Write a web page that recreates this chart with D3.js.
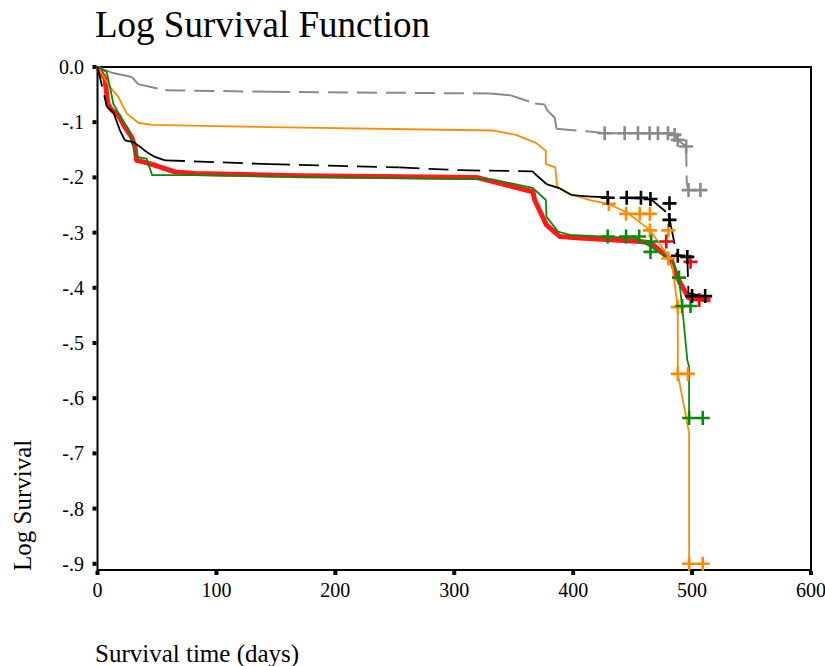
<!DOCTYPE html>
<html><head><meta charset="utf-8">
<script src="https://cdn.jsdelivr.net/npm/d3@7"></script>
<style>body{margin:0;background:#fff}svg{display:block}text{font-family:"Liberation Serif","Times New Roman",serif;fill:#000}</style>
</head><body><svg id="c" width="825" height="666"></svg>
<script>
const xTicks = [0,100,200,300,400,500,600];
const yTicks = [0,-0.1,-0.2,-0.3,-0.4,-0.5,-0.6,-0.7,-0.8,-0.9];
const yTickLabels = ["0.0","-.1","-.2","-.3","-.4","-.5","-.6","-.7","-.8","-.9"];

const grayLine = [[0,0],[13,-0.011],[29,-0.018],[34,-0.031],[57,-0.042],[145,-0.045],[330,-0.048],[347,-0.051],[368,-0.066],[376,-0.068],[378,-0.078],[384.5,-0.092],[386,-0.112],[414,-0.117],[426.5,-0.120],[479.7,-0.120],[485.3,-0.123],[488,-0.132],[495,-0.144],[495.5,-0.21],[497,-0.223],[506,-0.223]];
const grayCens = [[426.5,-0.120],[443.3,-0.120],[454.5,-0.120],[464.3,-0.120],[471.3,-0.120],[479.7,-0.120],[485.3,-0.123],[488,-0.132],[495,-0.144],[497,-0.223],[507,-0.223]];

const blackLine = [[0,0],[8,-0.0725],[13.3,-0.0815],[18.9,-0.115],[23.1,-0.133],[30.1,-0.136],[34.3,-0.142],[41.3,-0.154],[48.3,-0.163],[56.7,-0.169],[145,-0.176],[254,-0.182],[305,-0.187],[366,-0.189],[367.6,-0.193],[377.5,-0.212],[388.7,-0.220],[398.5,-0.232],[415,-0.235],[465,-0.239],[480,-0.266],[482,-0.285],[487,-0.340],[496,-0.344],[497,-0.410],[511,-0.415]];
const blackCens = [[429,-0.237],[445,-0.237],[457,-0.237],[465,-0.239],[481,-0.247],[481,-0.277],[488,-0.342],[496,-0.344],[500,-0.415],[511,-0.415]];

const orangeLine = [[0,0],[10.5,-0.036],[17.5,-0.054],[24.5,-0.084],[34.3,-0.101],[45.5,-0.105],[145,-0.109],[332,-0.115],[352,-0.123],[369,-0.138],[377,-0.152],[377,-0.176],[385,-0.182],[386.5,-0.2165],[397.5,-0.230],[414,-0.241],[429.7,-0.248],[445.5,-0.264],[464.3,-0.295],[482.8,-0.351],[488,-0.437],[488,-0.556],[497.5,-0.663],[497.5,-0.9]];
const orangeCens = [[430,-0.248],[444.5,-0.266],[456,-0.266],[464.5,-0.266],[464.5,-0.296],[480,-0.296],[480,-0.347],[488,-0.435],[488,-0.556],[496.5,-0.556],[497.5,-0.9],[509,-0.9]];

const redLine = [[0,0],[6.3,-0.021],[7.7,-0.048],[8.6,-0.0665],[11.9,-0.078],[17.5,-0.0875],[23.1,-0.109],[28.7,-0.127],[31.5,-0.145],[32.9,-0.169],[38.5,-0.172],[48.3,-0.178],[56.7,-0.184],[65.1,-0.190],[82,-0.193],[170,-0.197],[318.6,-0.200],[366.2,-0.226],[367.6,-0.241],[377.5,-0.286],[388.7,-0.307],[405.5,-0.310],[456.7,-0.316],[465.6,-0.319],[482.8,-0.351],[487,-0.379],[491.6,-0.397],[497,-0.418],[515.5,-0.422]];
const redCens = [[478.3,-0.316],[498.7,-0.353],[506,-0.422]];

const greenLine = [[0,0],[2.1,-0.002],[7.7,-0.009],[10.5,-0.036],[13.3,-0.0665],[20.3,-0.094],[25.9,-0.112],[32.9,-0.163],[41.3,-0.166],[46,-0.196],[82,-0.196],[170,-0.199],[332,-0.2035],[366,-0.219],[377,-0.241],[377.5,-0.271],[387.2,-0.298],[397,-0.304],[453,-0.310],[465.6,-0.326],[482.8,-0.351],[488.7,-0.379],[491.6,-0.433],[496,-0.531],[497.5,-0.543],[497.5,-0.636]];
const greenCens = [[429,-0.307],[444.5,-0.307],[455.5,-0.307],[465.6,-0.316],[465,-0.335],[489,-0.3815],[491.6,-0.433],[498.7,-0.433],[497.5,-0.636],[509,-0.636]];

const svg = d3.select("#c");
const L=97.5, R=811, T=67, B=570;
const x = d3.scaleLinear().domain([0,600]).range([L,R]);
const y = d3.scaleLinear().domain([0,-0.9]).range([T,563.8]);

// title
svg.append("text").attr("x",95).attr("y",37).attr("font-size",37).text("Log Survival Function");

// frame
svg.append("rect").attr("x",L).attr("y",T).attr("width",R-L).attr("height",B-T)
  .attr("fill","none").attr("stroke","#000").attr("stroke-width",2);

// y ticks
const gy = svg.append("g");
yTicks.forEach((v,i)=>{
  gy.append("rect").attr("x",L-5).attr("y",y(v)-2).attr("width",4).attr("height",4).attr("fill","#000");
  gy.append("text").attr("x",84).attr("y",y(v)).attr("dy","0.35em").attr("text-anchor","end")
    .attr("font-size",20).text(yTickLabels[i]);
});
// x ticks
const gx = svg.append("g");
xTicks.forEach(v=>{
  gx.append("rect").attr("x",x(v)-2).attr("y",B+1).attr("width",4).attr("height",4).attr("fill","#000");
  gx.append("text").attr("x",x(v)).attr("y",597).attr("text-anchor","middle").attr("font-size",20).text(v);
});

svg.append("text").attr("x",95).attr("y",662).attr("font-size",25).text("Survival time (days)");
svg.append("text").attr("transform","translate(31,571) rotate(-90)").attr("font-size",25).text("Log Survival");

const line = d3.line().x(d=>x(d[0])).y(d=>y(d[1]));
const plot = svg.append("g");

function solid(data,color,w){
  plot.append("path").datum(data).attr("d",line).attr("fill","none").attr("stroke",color)
    .attr("stroke-width",w).attr("stroke-linejoin","round");
}
function segDashed(data,color,w){
  for(let i=0;i<data.length-1;i++){
    plot.append("path").datum([data[i],data[i+1]]).attr("d",line).attr("fill","none")
      .attr("stroke",color).attr("stroke-width",w).attr("stroke-dasharray","20,9");
  }
}
function cens(data,color){
  const s=7;
  data.forEach(d=>{
    const cx=x(d[0]), cy=y(d[1]);
    plot.append("path").attr("d",`M${cx-s},${cy}H${cx+s}M${cx},${cy-s}V${cy+s}`)
      .attr("stroke",color).attr("stroke-width",2.6).attr("fill","none");
  });
}
solid(redLine,"#ff1a1a",5);
segDashed(grayLine,"#8a8a8a",2);
solid(orangeLine,"#ff8c00",1.8);
solid(greenLine,"#0a8a0a",1.8);
segDashed(blackLine,"#000",1.8);
cens(redCens,"#ff0000");
cens(grayCens,"#8a8a8a");
cens(orangeCens,"#ff8c00");
cens(greenCens,"#0a8a0a");
cens(blackCens,"#000");
</script></body></html>
